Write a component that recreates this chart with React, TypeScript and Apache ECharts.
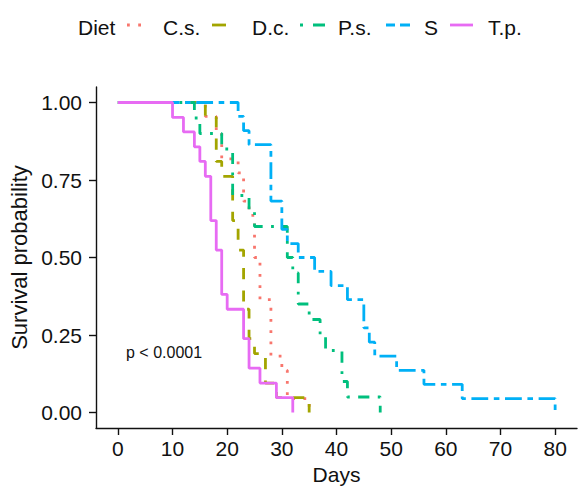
import React, { useEffect, useRef } from "react";
import * as echarts from "echarts";

const groups = ["C.s.", "D.c.", "P.s.", "S", "T.p."];
const colors = ["#F8766D", "#A3A500", "#00BF7D", "#00B0F6", "#E76BF3"];

const csTimes = [0, 16, 18, 19, 22, 23, 24, 25, 26, 28, 30, 31, 35];
const csSurv = [1, 0.955, 0.909, 0.818, 0.773, 0.682, 0.636, 0.5, 0.364, 0.182, 0.136, 0.045, 0];

const dcTimes = [0, 16, 18, 19, 21, 22, 23, 24, 25, 27, 29, 35];
const dcSurv = [1, 0.952, 0.81, 0.762, 0.619, 0.524, 0.333, 0.238, 0.19, 0.095, 0.048, 0];

const psTimes = [0, 14, 15, 19, 21, 24, 25, 31, 32, 33, 35, 37, 38, 41, 42, 48];
const psSurv = [1, 0.95, 0.9, 0.85, 0.7, 0.65, 0.6, 0.5, 0.45, 0.35, 0.3, 0.25, 0.2, 0.1, 0.05, 0];

const sTimes = [0, 22, 23, 24, 28, 30, 31, 33, 36, 39, 42, 45, 46, 47, 51, 56, 63, 80];
const sSurv = [1, 0.955, 0.909, 0.864, 0.682, 0.591, 0.545, 0.5, 0.455, 0.409, 0.364, 0.273, 0.227, 0.182, 0.136, 0.091, 0.045, 0];

const tpTimes = [0, 10, 12, 14, 15, 16, 17, 18, 19, 20, 23, 24, 26, 29, 32];
const tpSurv = [1, 0.952, 0.905, 0.857, 0.81, 0.762, 0.619, 0.524, 0.381, 0.333, 0.238, 0.143, 0.095, 0.048, 0];

const xTicks = [0, 10, 20, 30, 40, 50, 60, 70, 80];
const yTicks = [0, 0.25, 0.5, 0.75, 1];

const LW = 2.8;
const dashes: number[][] = [
  [LW, 3 * LW],
  [4 * LW, 4 * LW],
  [LW, 3 * LW, 4 * LW, 3 * LW],
  [2 * LW, 2 * LW, 6 * LW, 2 * LW],
  [],
];

// legend key geometry (pixels)
const keyX = [127, 212, 300, 386, 450];
const keyLen = [16, 15, 26, 24, 23];
const keyDash: (number[] | null)[] = [
  [LW, 3 * LW],
  [14, 10],
  [3, 10, 12, 10],
  [9, 5, 10, 5],
  null,
];
const textX = [163, 252, 338, 424, 488];

const FONT = "'Liberation Sans', Arial, Helvetica, sans-serif";

export default function App() {
  const ref = useRef<HTMLDivElement>(null);
  useEffect(() => {
    if (!ref.current) return;
    const chart = echarts.init(ref.current, undefined, { renderer: "svg" });
    const all = [
      [csTimes, csSurv],
      [dcTimes, dcSurv],
      [psTimes, psSurv],
      [sTimes, sSurv],
      [tpTimes, tpSurv],
    ];
    const series = all.map(([t, s], i) => ({
      name: groups[i],
      type: "line",
      step: "end",
      symbol: "none",
      data: t.map((v, j) => [v, s[j]]),
      lineStyle: {
        color: colors[i],
        width: LW,
        type: dashes[i].length ? dashes[i] : "solid",
        cap: "butt",
      },
      itemStyle: { color: colors[i] },
      emphasis: { disabled: true },
    }));

    const legendGraphics: any[] = [
      {
        type: "text",
        x: 78,
        y: 27,
        style: { text: "Diet", fontSize: 21, fill: "#111", fontFamily: FONT, verticalAlign: "middle" },
      },
    ];
    groups.forEach((g, i) => {
      legendGraphics.push({
        type: "line",
        shape: { x1: keyX[i], y1: 25, x2: keyX[i] + keyLen[i], y2: 25 },
        style: {
          stroke: colors[i],
          lineWidth: LW,
          lineDash: keyDash[i] || null,
          lineCap: "butt",
        },
      });
      legendGraphics.push({
        type: "text",
        x: textX[i],
        y: 27,
        style: { text: g, fontSize: 21, fill: "#111", fontFamily: FONT, verticalAlign: "middle" },
      });
    });

    chart.setOption({
      animation: false,
      textStyle: { fontFamily: FONT },
      grid: { left: 96, right: 9, top: 87, bottom: 60, containLabel: false, outerBoundsMode: "none" },
      xAxis: {
        type: "value",
        min: -4,
        max: 84,
        name: "Days",
        nameLocation: "middle",
        nameGap: 36,
        nameTextStyle: { fontSize: 21, color: "#111", fontFamily: FONT },
        splitLine: { show: false },
        axisLine: { onZero: false, lineStyle: { color: "#111", width: 1.4 } },
        axisTick: { customValues: xTicks, length: 7, lineStyle: { color: "#111", width: 1.4 } },
        axisLabel: { customValues: xTicks, fontSize: 21, color: "#111", margin: 10, fontFamily: FONT },
      },
      yAxis: {
        type: "value",
        min: -0.05,
        max: 1.05,
        name: "Survival probability",
        nameLocation: "middle",
        nameGap: 64,
        nameTextStyle: { fontSize: 22, color: "#111", fontFamily: FONT },
        splitLine: { show: false },
        axisLine: { show: true, onZero: false, lineStyle: { color: "#111", width: 1.4 } },
        axisTick: { show: true, customValues: yTicks, length: 7, lineStyle: { color: "#111", width: 1.4 } },
        axisLabel: {
          customValues: yTicks,
          fontSize: 21,
          color: "#111",
          margin: 14,
          fontFamily: FONT,
          formatter: (v: number) => v.toFixed(2),
        },
      },
      graphic: [
        ...legendGraphics,
        {
          type: "text",
          x: 126,
          y: 352,
          style: { text: "p < 0.0001", fontSize: 16, fill: "#111", fontFamily: FONT, verticalAlign: "middle" },
        },
      ],
      series,
    });
    return () => chart.dispose();
  }, []);
  return (
    <div
      ref={ref}
      style={{ position: "fixed", left: 0, top: 0, width: 586, height: 488, background: "#fff" }}
    />
  );
}
